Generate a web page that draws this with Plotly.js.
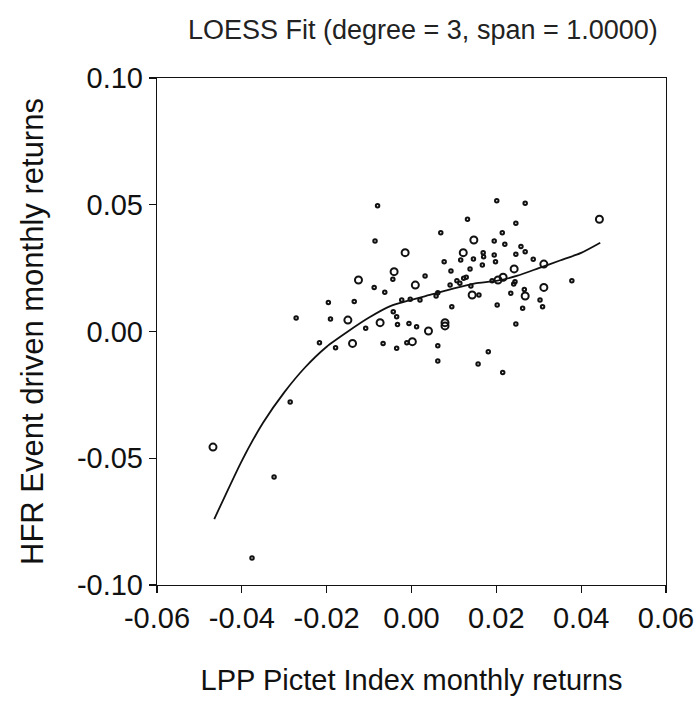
<!DOCTYPE html>
<html>
<head>
<meta charset="utf-8">
<script src="https://cdn.plot.ly/plotly-3.0.1.min.js"></script>
<style>html,body{margin:0;padding:0;background:#fff;}#chart{width:699px;height:713px;}</style>
</head>
<body>
<div id="chart"></div>
<script>
// Large open-circle observations
const bigX = [-0.0468, -0.0041, -0.0125, 0.0147, -0.0015, 0.0122, 0.0009, 0.0312, 0.0242, 0.0216, 0.0204, 0.0443,
  -0.0150, -0.0074, -0.0139, 0.0143, 0.0079, 0.0079, 0.0040, 0.0002, 0.0312, 0.0268];
const bigY = [-0.0456, 0.0236, 0.0203, 0.0361, 0.0311, 0.0311, 0.0183, 0.0266, 0.0247, 0.0214, 0.0203, 0.0443,
  0.0045, 0.0035, -0.0047, 0.0144, 0.0035, 0.0022, 0.0002, -0.0040, 0.0174, 0.0140];

// Small observations
const smallX = [-0.0324, -0.0376, -0.0286, -0.0272,
  -0.0080, -0.0086, -0.0044,
  0.0132, 0.0069, 0.0169, 0.0170, 0.0146, 0.0116, 0.0077, 0.0167, 0.0093, 0.0138, 0.0032, 0.0107, 0.0123, 0.0129,
  0.0201, 0.0268, 0.0246, 0.0214, 0.0195, 0.0220, 0.0258, 0.0268, 0.0246, 0.0195, 0.0287, 0.0198, 0.0244, 0.0378,
  -0.0088, -0.0063, -0.0196, -0.0135, -0.0043, -0.0035, -0.0191, -0.0033, -0.0108, -0.0217, -0.0179, -0.0067, -0.0035,
  0.0159, 0.0062, -0.0003, 0.0020, -0.0023, 0.0095, -0.0006, 0.0012, -0.0011, 0.0062, 0.0062, 0.0181, 0.0157,
  0.0241, 0.0266, 0.0234, 0.0303, 0.0309, 0.0202, 0.0262, 0.0246, 0.0215,
  0.0091, 0.0140, 0.0058, 0.0114, 0.0190];
const smallY = [-0.0574, -0.0893, -0.0278, 0.0053,
  0.0496, 0.0357, 0.0206,
  0.0443, 0.0390, 0.0311, 0.0295, 0.0286, 0.0282, 0.0275, 0.0262, 0.0239, 0.0247, 0.0219, 0.0200, 0.0210, 0.0214,
  0.0516, 0.0506, 0.0427, 0.0390, 0.0357, 0.0344, 0.0335, 0.0315, 0.0305, 0.0302, 0.0285, 0.0275, 0.0196, 0.0200,
  0.0174, 0.0155, 0.0114, 0.0118, 0.0078, 0.0058, 0.0049, 0.0028, 0.0013, -0.0044, -0.0064, -0.0047, -0.0066,
  0.0144, 0.0153, 0.0127, 0.0124, 0.0124, 0.0098, 0.0032, 0.0019, -0.0044, -0.0056, -0.0116, -0.0080, -0.0128,
  0.0187, 0.0166, 0.0151, 0.0124, 0.0098, 0.0105, 0.0092, 0.0030, -0.0162,
  0.0183, 0.0179, 0.0140, 0.0190, 0.0200];

// LOESS fitted curve
const fitX = [-0.0465, -0.040, -0.035, -0.030, -0.025, -0.020, -0.015, -0.010, -0.005, 0.000, 0.005, 0.010, 0.015, 0.020, 0.025, 0.030, 0.035, 0.040, 0.0445];
const fitY = [-0.074, -0.051, -0.036, -0.024, -0.014, -0.006, 0.000, 0.0055, 0.0100, 0.0125, 0.0147, 0.017, 0.019, 0.020, 0.022, 0.025, 0.028, 0.031, 0.035];

// Tick labels
const xTickVals = [-0.06, -0.04, -0.02, 0.00, 0.02, 0.04, 0.06];
const xTickText = ["-0.06", "-0.04", "-0.02", "0.00", "0.02", "0.04", "0.06"];
const yTickVals = [-0.10, -0.05, 0.00, 0.05, 0.10];
const yTickText = ["-0.10", "-0.05", "0.00", "0.05", "0.10"];

const FONT = "Liberation Sans, Arial, sans-serif";

const traces = [
  {x: smallX, y: smallY, type: 'scatter', mode: 'markers',
   marker: {symbol: 'circle-open', size: 3.5, color: '#111', line: {width: 2, color: '#111'}}, hoverinfo: 'skip'},
  {x: bigX, y: bigY, type: 'scatter', mode: 'markers',
   marker: {symbol: 'circle-open', size: 7, color: '#111', line: {width: 2, color: '#111'}}, hoverinfo: 'skip'},
  {x: fitX, y: fitY, type: 'scatter', mode: 'lines', line: {color: '#111', width: 1.8, shape: 'spline', smoothing: 0.6}, hoverinfo: 'skip'}
];

const layout = {
  width: 699, height: 713,
  margin: {l: 157, r: 33, t: 78, b: 128},
  paper_bgcolor: '#fff', plot_bgcolor: '#fff',
  showlegend: false,
  font: {family: FONT, color: '#111'},
  title: {text: 'LOESS Fit (degree = 3, span = 1.0000)', font: {size: 27, color: '#222'},
          x: 0.605, xref: 'container', xanchor: 'center', y: 0.958, yref: 'container', yanchor: 'middle'},
  xaxis: {range: [-0.06, 0.06], tickvals: xTickVals, ticktext: xTickText,
          showgrid: false, zeroline: false, showline: true, mirror: true, linecolor: '#111', linewidth: 1.2,
          ticks: 'outside', ticklen: 7, tickwidth: 1.2, tickcolor: '#111', tickfont: {size: 29},
          title: {text: 'LPP Pictet Index monthly returns', font: {size: 29}, standoff: 36}},
  yaxis: {range: [-0.10, 0.10], tickvals: yTickVals, ticktext: yTickText,
          showgrid: false, zeroline: false, showline: true, mirror: true, linecolor: '#111', linewidth: 1.2,
          ticks: 'outside', ticklen: 7, tickwidth: 1.2, tickcolor: '#111', tickfont: {size: 29},
          title: {text: 'HFR Event driven monthly returns', font: {size: 31}, standoff: 24}}
};

Plotly.newPlot('chart', traces, layout, {staticPlot: true, displayModeBar: false});
</script>
</body>
</html>
